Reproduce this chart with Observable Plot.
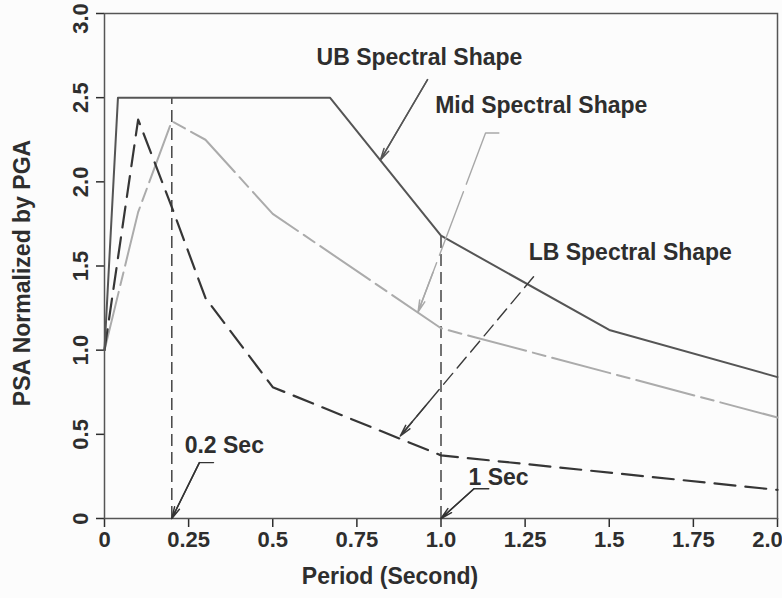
<!DOCTYPE html>
<html>
<head>
<meta charset="utf-8">
<script src="https://cdn.jsdelivr.net/npm/d3@7"></script>
<script src="https://cdn.jsdelivr.net/npm/@observablehq/plot@0.6"></script>
<style>
  html, body { margin: 0; padding: 0; background: #fcfcfc; }
  #chart svg { display: block; }
</style>
</head>
<body>
<div id="chart"></div>
<script>
// Spectral shapes: period (s) against PSA normalized by PGA
const ubPeriod  = [0, 0.04, 0.67, 1.0, 1.5, 2.0];
const ubPsa     = [1.0, 2.5, 2.5, 1.68, 1.12, 0.84];
const midPeriod = [0, 0.1, 0.2, 0.3, 0.5, 1.0, 2.0];
const midPsa    = [1.0, 1.82, 2.36, 2.25, 1.81, 1.13, 0.60];
const lbPeriod  = [0, 0.1, 0.2, 0.3, 0.5, 1.0, 2.0];
const lbPsa     = [1.0, 2.37, 1.85, 1.31, 0.78, 0.375, 0.17];

// Reference periods (0.2 s and 1 s), marked up to the UB shape
const markerPeriod = [0.2, 1.0];
const markerTop    = [2.5, 1.68];

// Axis ticks
const xTicks      = [0, 0.25, 0.5, 0.75, 1, 1.25, 1.5, 1.75, 2];
const xTickLabels = ["0", "0.25", "0.5", "0.75", "1.0", "1.25", "1.5", "1.75", "2.0"];
const yTicks      = [0, 0.5, 1, 1.5, 2, 2.5, 3];
const yTickLabels = ["0", "0.5", "1.0", "1.5", "2.0", "2.5", "3.0"];

// Callouts: label text and anchor, then leader start, optional elbow and arrow tip
const calloutKey    = ["ub", "mid", "lb", "t02", "t1"];
const calloutLabel  = ["UB Spectral Shape", "Mid Spectral Shape", "LB Spectral Shape", "0.2 Sec", "1 Sec"];
const calloutLabelX = [0.936, 1.298, 1.5625, 0.356, 1.171];
const calloutLabelY = [2.74, 2.452, 1.577, 0.435, 0.244];
const leaderStartX  = [0.960, 1.172, 1.275, 0.324, 1.142];
const leaderStartY  = [2.607, 2.290, 1.436, 0.332, 0.177];
const leaderElbowX  = [null, 1.1324, null, 0.282, 1.098];
const leaderElbowY  = [null, 2.290, null, 0.332, 0.177];
const leaderTipX    = [0.820, 0.932, 0.879, 0.2, 1.0];
const leaderTipY    = [2.13, 1.228, 0.49, 0, 0];

const FONT = "'Liberation Sans', Arial, Helvetica, sans-serif";
const TICK_FONT = "'Liberation Sans Narrow', 'Arial Narrow', 'Liberation Sans', Arial, sans-serif";
const INK = "#2e2e2e";

const lineStyles = {
  ub:  {stroke: "#555555", strokeWidth: 2},
  mid: {stroke: "#ababab", strokeWidth: 2, strokeDasharray: "60,7,13,7"},
  lb:  {stroke: "#363636", strokeWidth: 2.2, strokeDasharray: "21,10"}
};
const leaderStyles = {
  ub:  {stroke: "#555555", dash: null, headFrac: 1},
  mid: {stroke: "#a8a8a8", dash: "68,8", headFrac: 0.22},
  lb:  {stroke: "#3a3a3a", dash: "14,7", headFrac: 0.22},
  t02: {stroke: "#333333", dash: null, headFrac: 1},
  t1:  {stroke: "#333333", dash: null, headFrac: 1}
};

const rows = (xs, ys) => xs.map((x, i) => ({x, y: ys[i]}));

// Leader lines with arrowheads pointing at the described feature
const leaderMarks = calloutKey.flatMap((key, i) => {
  const s = leaderStyles[key];
  const pts = [{x: leaderStartX[i], y: leaderStartY[i]}];
  if (leaderElbowX[i] != null) pts.push({x: leaderElbowX[i], y: leaderElbowY[i]});
  const tip = {x: leaderTipX[i], y: leaderTipY[i]};
  const prev = pts[pts.length - 1];
  pts.push(tip);
  const from = {
    x: tip.x + (prev.x - tip.x) * s.headFrac,
    y: tip.y + (prev.y - tip.y) * s.headFrac
  };
  return [
    Plot.line(pts, {x: "x", y: "y", stroke: s.stroke, strokeWidth: 1.4,
      strokeDasharray: s.dash ?? undefined}),
    Plot.arrow([{x1: from.x, y1: from.y, x2: tip.x, y2: tip.y}], {
      x1: "x1", y1: "y1", x2: "x2", y2: "y2",
      stroke: s.stroke, strokeWidth: 1.5, headLength: 12, headAngle: 26
    })
  ];
});

const tickText = {fontSize: 22, fontWeight: "bold", fontFamily: TICK_FONT, label: null};
const lastX = xTicks.length - 1;
const lastY = yTicks.length - 1;

const chart = Plot.plot({
  width: 782,
  height: 598,
  marginLeft: 104,
  marginRight: 5,
  marginTop: 13,
  marginBottom: 80,
  x: {domain: [0, 2]},
  y: {domain: [0, 3]},
  style: {background: "#fcfcfc", fontFamily: FONT, fontWeight: "bold", color: INK},
  marks: [
    Plot.axisX(xTicks, {
      ...tickText,
      tickFormat: d => (d === xTicks[lastX] ? "" : xTickLabels[xTicks.indexOf(d)]),
      tickSize: 9, tickPadding: 4, strokeWidth: 1.5
    }),
    // last x label sits just inside the right edge
    Plot.axisX([xTicks[lastX]], {
      ...tickText,
      tickFormat: () => xTickLabels[lastX],
      tickSize: 0, tickPadding: 13, dx: -10
    }),
    Plot.axisY(yTicks, {
      ...tickText,
      tickFormat: d => (d === yTicks[lastY] ? "" : yTickLabels[yTicks.indexOf(d)]),
      tickSize: 8, tickPadding: 9, tickRotate: -90, strokeWidth: 1.5
    }),
    // top y label sits just inside the top edge
    Plot.axisY([yTicks[lastY]], {
      ...tickText,
      tickFormat: () => yTickLabels[lastY],
      tickSize: 0, tickPadding: 17, tickRotate: -90, dy: 5
    }),
    Plot.frame({stroke: "#555", strokeWidth: 1.5}),

    // Vertical dashed markers at the reference periods
    Plot.ruleX(markerPeriod, {
      x: d => d, y1: 0, y2: (d, i) => markerTop[i],
      stroke: "#444", strokeWidth: 1.5, strokeDasharray: "12,6"
    }),

    // The three spectral shapes
    Plot.line(rows(midPeriod, midPsa), {x: "x", y: "y", ...lineStyles.mid}),
    Plot.line(rows(lbPeriod, lbPsa), {x: "x", y: "y", ...lineStyles.lb}),
    Plot.line(rows(ubPeriod, ubPsa), {x: "x", y: "y", ...lineStyles.ub}),

    ...leaderMarks,

    Plot.text(calloutLabel, {
      x: (d, i) => calloutLabelX[i], y: (d, i) => calloutLabelY[i], text: d => d,
      fontSize: 23, fontWeight: "bold", fill: INK
    }),

    // Axis titles
    Plot.text(["PSA Normalized by PGA"], {
      text: d => d, frameAnchor: "left", textAnchor: "middle", lineAnchor: "middle",
      dx: -82, dy: 7, rotate: -90,
      fontSize: 23, fontWeight: "bold", fill: INK
    }),
    Plot.text(["Period (Second)"], {
      text: d => d, frameAnchor: "bottom", textAnchor: "middle", lineAnchor: "middle",
      dx: -51, dy: 58,
      fontSize: 23, fontWeight: "bold", fill: INK
    })
  ]
});

document.getElementById("chart").append(chart);
</script>
</body>
</html>
